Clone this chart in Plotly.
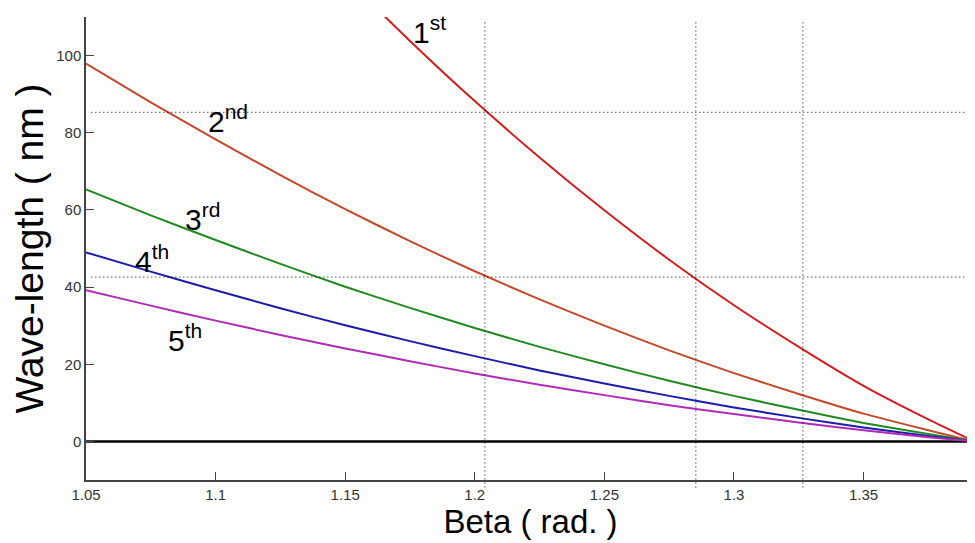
import plotly.graph_objects as go

beta = [1.05, 1.075, 1.10, 1.125, 1.15, 1.175, 1.20, 1.225, 1.25, 1.275, 1.30, 1.325, 1.35, 1.375, 1.3927]
order1 = [195.8, 175.8, 156.6, 138.0, 120.4, 103.8, 88.2, 73.6, 59.9, 47.1, 35.3, 24.5, 14.4, 5.7, 0]
order2 = [97.9, 87.9, 78.3, 69.0, 60.2, 51.9, 44.1, 36.8, 30.0, 23.6, 17.7, 12.3, 7.2, 2.9, 0]
order3 = [65.3, 58.6, 52.2, 46.0, 40.1, 34.6, 29.4, 24.5, 20.0, 15.7, 11.8, 8.2, 4.8, 1.9, 0]
order4 = [49.0, 44.0, 39.2, 34.5, 30.1, 26.0, 22.1, 18.4, 15.0, 11.8, 8.8, 6.1, 3.6, 1.4, 0]
order5 = [39.2, 35.2, 31.3, 27.6, 24.1, 20.8, 17.6, 14.7, 12.0, 9.4, 7.1, 4.9, 2.9, 1.1, 0]

series_names = ["1st", "2nd", "3rd", "4th", "5th"]
series_vals = [order1, order2, order3, order4, order5]
colors = ["#d41c1c", "#c4482a", "#1f8a1f", "#1c1caa", "#b02cb8"]

labels = ["1<sup>st</sup>", "2<sup>nd</sup>", "3<sup>rd</sup>", "4<sup>th</sup>", "5<sup>th</sup>"]
label_x = [1.1827, 1.1048, 1.0948, 1.0755, 1.0882]
label_y = [106.6, 83.6, 58.2, 47.3, 26.8]

hlines = [85.3, 42.6]
vlines = [1.2039, 1.2853, 1.3266]

xticks = [1.05, 1.1, 1.15, 1.2, 1.25, 1.3, 1.35]
xticklabels = ["1.05", "1.1", "1.15", "1.2", "1.25", "1.3", "1.35"]
yticks = [0, 20, 40, 60, 80, 100]

fig = go.Figure()

# zero line
fig.add_trace(go.Scatter(x=[beta[0], beta[-1] + 0.001], y=[0, 0], mode="lines",
                         line=dict(color="black", width=2.5), showlegend=False, hoverinfo="skip"))

for name, vals, c in zip(series_names, series_vals, colors):
    fig.add_trace(go.Scatter(x=beta, y=vals, mode="lines", name=name,
                             line=dict(color=c, width=2, shape="spline", smoothing=0.6),
                             showlegend=False))

dot = "1px,3px"
shapes = []
for h in hlines:
    shapes.append(dict(type="line", xref="paper", yref="y", x0=0.006, x1=1, y0=h, y1=h,
                       line=dict(color="black", width=1, dash=dot)))
for v in vlines:
    shapes.append(dict(type="line", xref="x", yref="paper", x0=v, x1=v, y0=-0.016, y1=0.99,
                       line=dict(color="black", width=1, dash=dot)))

annotations = []
for t, ax, ay in zip(labels, label_x, label_y):
    annotations.append(dict(x=ax, y=ay, xref="x", yref="y", text=t, showarrow=False,
                            font=dict(family="Liberation Sans, Arial", size=30, color="black")))

fig.update_layout(
    width=967, height=535,
    margin=dict(l=78, r=0, t=9, b=63),
    paper_bgcolor="white", plot_bgcolor="white",
    shapes=shapes, annotations=annotations,
    font=dict(family="Liberation Sans, Arial", color="#333333"),
    xaxis=dict(range=[1.05, 1.393], tickvals=xticks, ticktext=xticklabels, automargin=False,
               ticks="inside", ticklen=8, tickcolor="#444", showgrid=False, zeroline=False,
               showline=True, linecolor="#444", linewidth=1.5,
               tickfont=dict(size=15, color="#333"),
               title=dict(text="Beta ( rad. )", font=dict(size=33, color="black"), standoff=2)),
    yaxis=dict(range=[-10, 110], tickvals=yticks, automargin=False,
               ticks="inside", ticklen=8, tickcolor="#444",
               showgrid=False, zeroline=False, showline=True, linecolor="#444", linewidth=1.5,
               tickfont=dict(size=15, color="#333"),
               title=dict(text="Wave-length ( nm )", font=dict(size=39, color="black"), standoff=4)),
)

fig.write_html("out.html")
